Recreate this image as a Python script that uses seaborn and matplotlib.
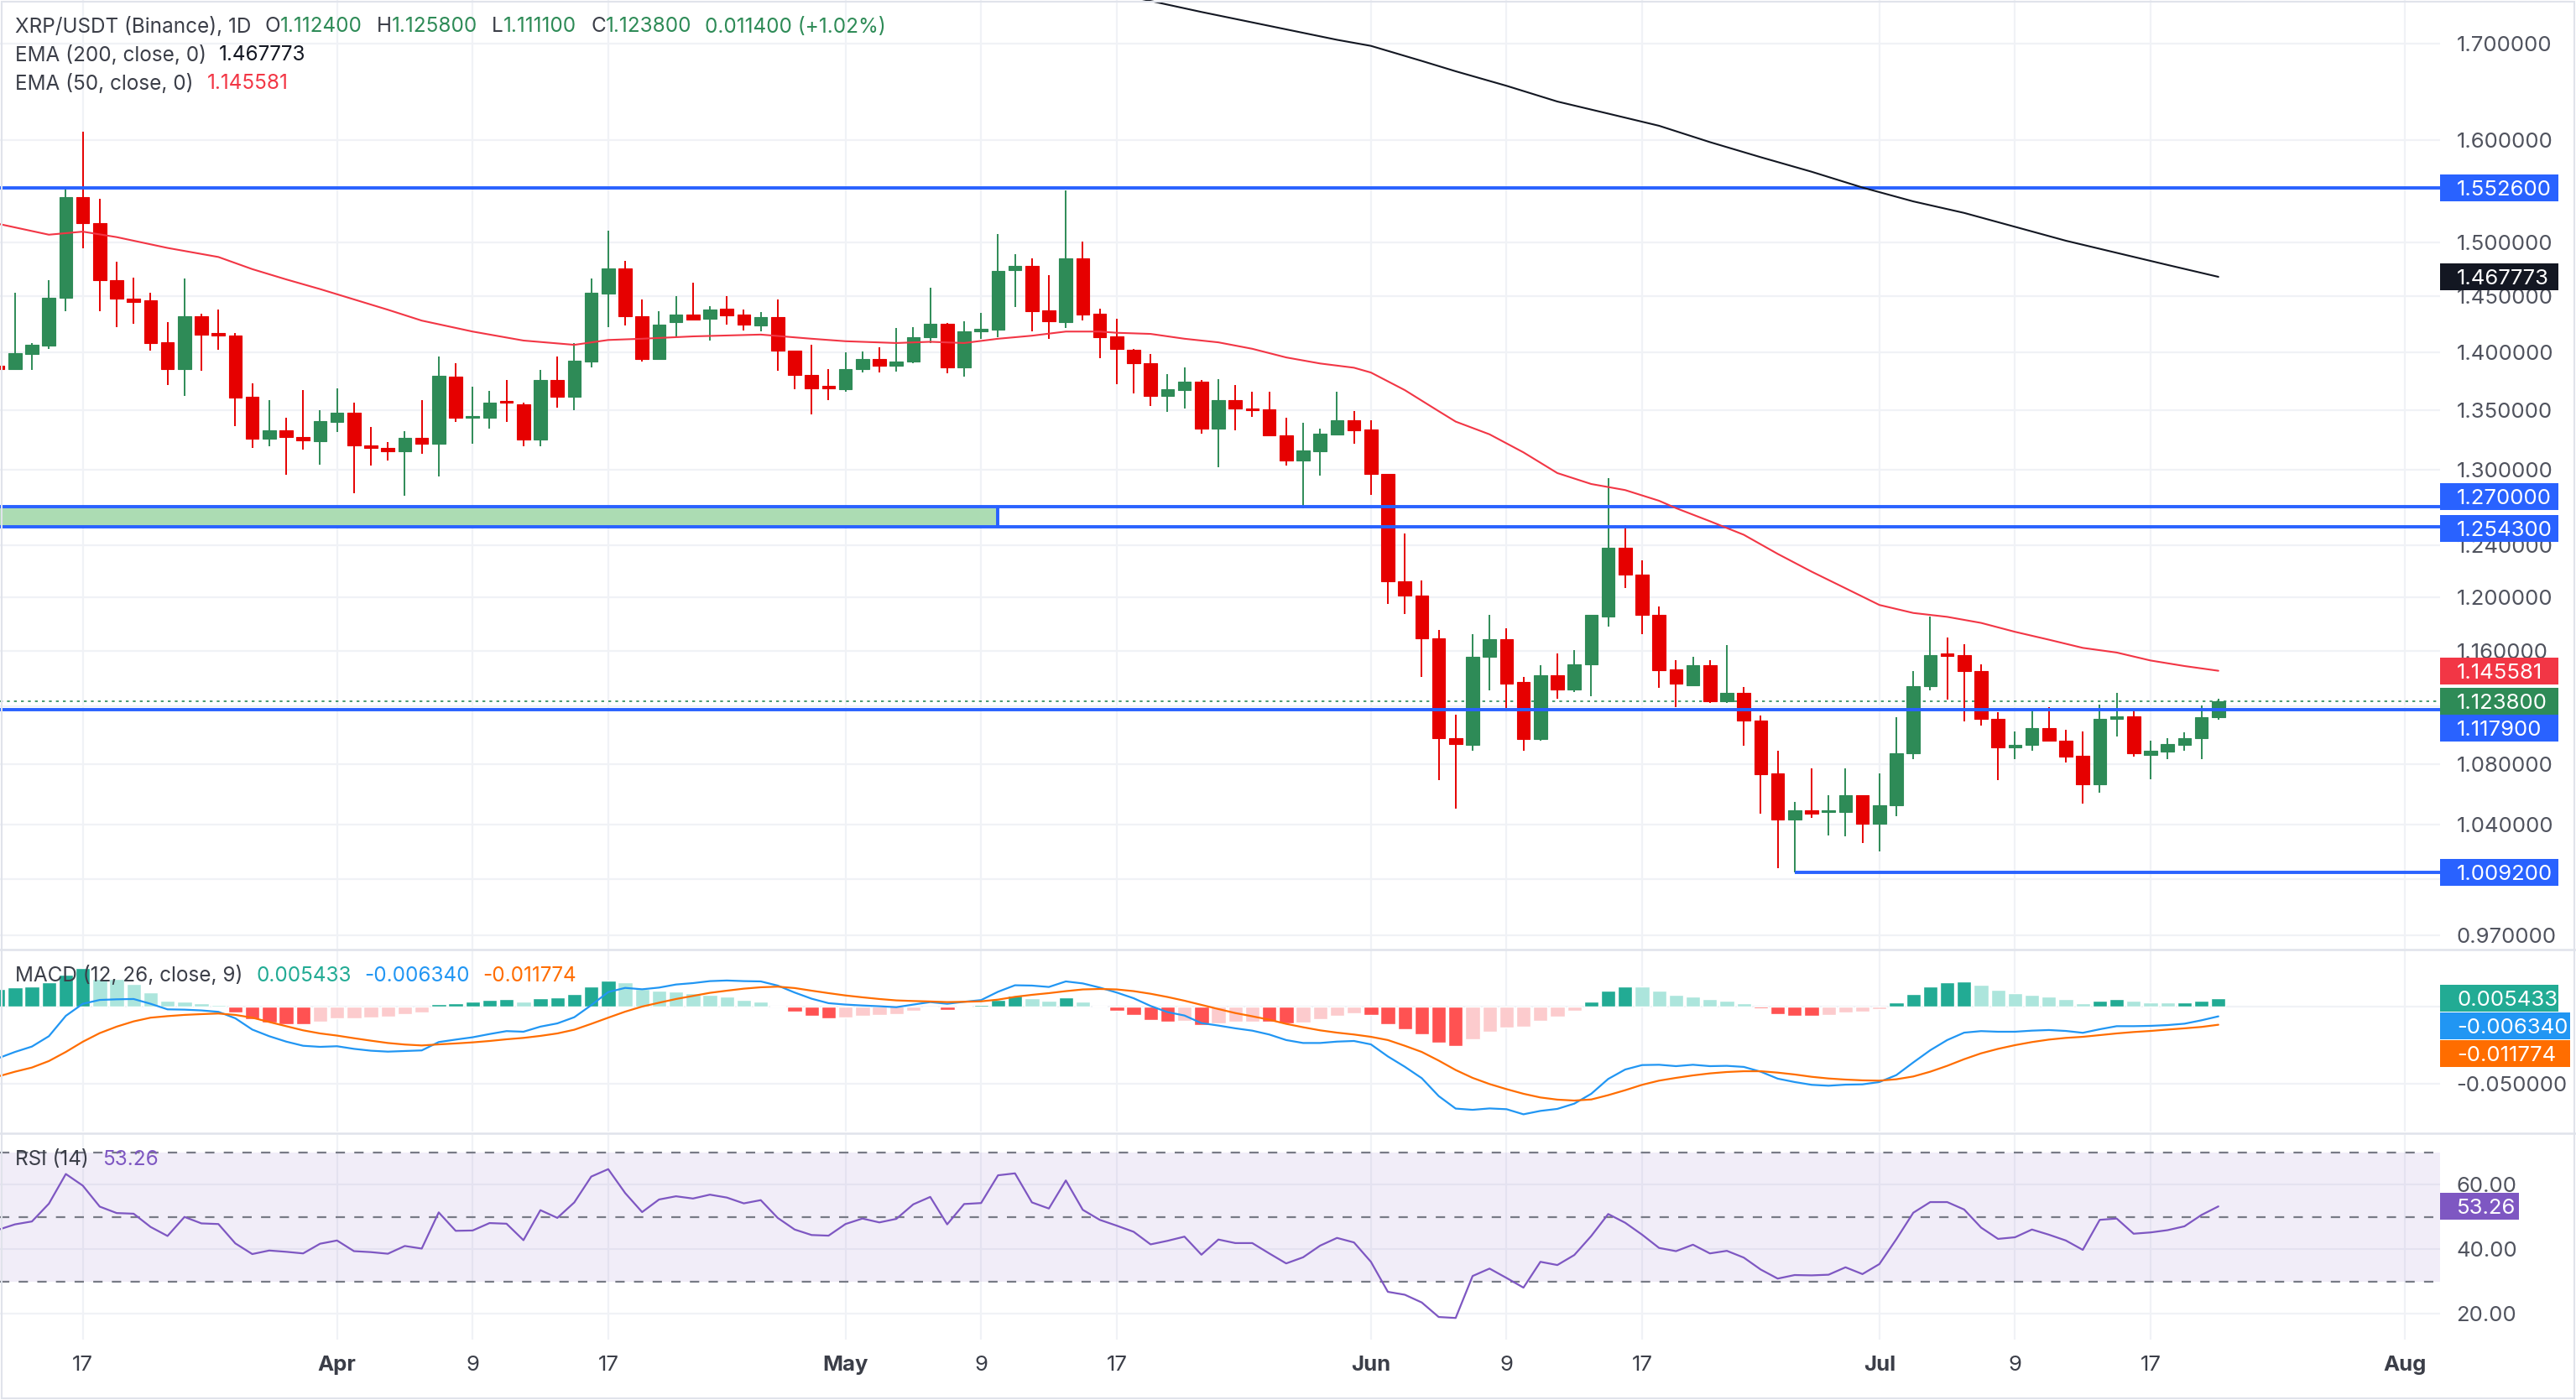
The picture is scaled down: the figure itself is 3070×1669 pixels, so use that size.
import numpy as np
import pandas as pd
import matplotlib
matplotlib.use("Agg")
import matplotlib.pyplot as plt
import matplotlib.dates as mdates
from matplotlib.patches import Rectangle
from matplotlib.lines import Line2D
from matplotlib.ticker import FixedLocator, FixedFormatter, NullLocator
import seaborn as sns

# ---------------- data ----------------
dates = pd.date_range("2025-03-12", "2025-07-21", freq="D")

opens = [1.388, 1.385, 1.3985, 1.4055, 1.4487, 1.5432, 1.5181, 1.465, 1.4477, 1.446,
         1.4088, 1.3847, 1.4322, 1.4165, 1.4144, 1.3611, 1.3254, 1.3329, 1.3274, 1.3239,
         1.34, 1.3478, 1.3203, 1.3178, 1.3153, 1.3264, 1.3213, 1.3785, 1.3431, 1.3436,
         1.3574, 1.3548, 1.3249, 1.3752, 1.3611, 1.3915, 1.4527, 1.4756, 1.4322, 1.3936,
         1.4267, 1.4333, 1.4292, 1.4384, 1.4335, 1.4238, 1.4308, 1.4012, 1.38, 1.3704,
         1.3673, 1.3852, 1.3936, 1.3878, 1.3915, 1.413, 1.4249, 1.3862, 1.4184, 1.42,
         1.474, 1.4779, 1.4373, 1.4265, 1.4852, 1.434, 1.4141, 1.4017, 1.3899, 1.3616,
         1.3668, 1.3742, 1.3344, 1.358, 1.3514, 1.3504, 1.3288, 1.3073, 1.3153, 1.3293,
         1.341, 1.3334, 1.2968, 1.2116, 1.2009, 1.169, 1.0978, 1.0935, 1.1556, 1.1686,
         1.1374, 1.0974, 1.1421, 1.1322, 1.1503, 1.1855, 1.2375, 1.2171, 1.1864, 1.1464,
         1.1352, 1.1494, 1.1236, 1.1296, 1.1103, 1.0738, 1.043, 1.0492, 1.0484, 1.048,
         1.0591, 1.0403, 1.0527, 1.0878, 1.1348, 1.158, 1.1571, 1.1451, 1.1116, 1.0915,
         1.0936, 1.1048, 1.0965, 1.0858, 1.0667, 1.1116, 1.1133, 1.0866, 1.0887, 1.0936,
         1.0978, 1.1124]
highs = [1.391, 1.453, 1.4082, 1.465, 1.5514, 1.6078, 1.5414, 1.4818, 1.4672, 1.4533,
         1.4262, 1.4661, 1.4344, 1.4378, 1.4165, 1.3725, 1.358, 1.3431, 1.3667, 1.3499,
         1.3683, 1.3564, 1.3354, 1.3228, 1.3318, 1.358, 1.3957, 1.3899, 1.3699, 1.3662,
         1.3752, 1.3564, 1.3841, 1.3957, 1.4082, 1.4661, 1.5107, 1.4824, 1.4471, 1.4367,
         1.45, 1.4622, 1.4411, 1.4499, 1.4378, 1.4357, 1.4471, 1.4015, 1.4066, 1.3847,
         1.3996, 1.4001, 1.4044, 1.4211, 1.4222, 1.4577, 1.426, 1.4276, 1.4346, 1.5081,
         1.4891, 1.4852, 1.4694, 1.5497, 1.5003, 1.4389, 1.4297, 1.4028, 1.398, 1.3805,
         1.3862, 1.3757, 1.3763, 1.3711, 1.3657, 1.3657, 1.3436, 1.3389, 1.3339, 1.3657,
         1.3488, 1.341, 1.2968, 1.2486, 1.2125, 1.1753, 1.1146, 1.1722, 1.1864, 1.1766,
         1.1412, 1.1494, 1.1579, 1.1606, 1.1869, 1.2929, 1.2557, 1.2278, 1.1927, 1.153,
         1.1558, 1.153, 1.164, 1.1339, 1.1137, 1.0895, 1.0551, 1.0775, 1.0595, 1.0771,
         1.0595, 1.0742, 1.1124, 1.1451, 1.1851, 1.1695, 1.1649, 1.1503, 1.1163, 1.1026,
         1.1176, 1.1194, 1.104, 1.1026, 1.1215, 1.13, 1.1172, 1.0961, 1.0982, 1.1022,
         1.1211, 1.1258]
lows = [1.382, 1.384, 1.3842, 1.4023, 1.4362, 1.4947, 1.4362, 1.4224, 1.4251, 1.4012,
        1.371, 1.3616, 1.3836, 1.4017, 1.3359, 1.3183, 1.3193, 1.2958, 1.3168, 1.3043,
        1.3312, 1.2807, 1.3033, 1.3073, 1.2792, 1.3128, 1.2948, 1.3394, 1.3218, 1.3344,
        1.3394, 1.3193, 1.3193, 1.3519, 1.3498, 1.3862, 1.4224, 1.4235, 1.3915, 1.393,
        1.4127, 1.4278, 1.4103, 1.4244, 1.419, 1.4184, 1.3836, 1.3678, 1.3462, 1.3585,
        1.3657, 1.382, 1.382, 1.3831, 1.3904, 1.4077, 1.381, 1.3783, 1.4114, 1.413,
        1.44, 1.4184, 1.4114, 1.4211, 1.4281, 1.3942, 1.3717, 1.3637, 1.3529, 1.3483,
        1.3509, 1.3302, 1.3024, 1.3329, 1.3441, 1.3283, 1.3033, 1.2687, 1.2953, 1.3288,
        1.3218, 1.2797, 1.195, 1.1873, 1.1412, 1.0692, 1.0504, 1.0891, 1.1318, 1.1189,
        1.0891, 1.0965, 1.1258, 1.1305, 1.1271, 1.178, 1.2065, 1.1722, 1.1335, 1.1194,
        1.1344, 1.1228, 1.1224, 1.0928, 1.0473, 1.0117, 1.0092, 1.0441, 1.0329, 1.0325,
        1.0278, 1.0226, 1.0457, 1.0838, 1.1318, 1.125, 1.1095, 1.1065, 1.0692, 1.0834,
        1.0891, 1.0961, 1.0813, 1.0536, 1.061, 1.099, 1.0854, 1.07, 1.0834, 1.0891,
        1.0838, 1.1111]
closes = [1.385, 1.399, 1.4066, 1.4482, 1.5432, 1.5181, 1.4645, 1.4477, 1.4449, 1.4082,
          1.3847, 1.4322, 1.4154, 1.4149, 1.3606, 1.3254, 1.3329, 1.3274, 1.3244, 1.3405,
          1.3478, 1.3198, 1.3183, 1.3153, 1.3264, 1.3213, 1.379, 1.3431, 1.3446, 1.3564,
          1.3559, 1.3249, 1.3752, 1.3611, 1.392, 1.4533, 1.4756, 1.4322, 1.3936, 1.424,
          1.4333, 1.4289, 1.4378, 1.4324, 1.4244, 1.4308, 1.4012, 1.38, 1.3683, 1.3683,
          1.3852, 1.3936, 1.3878, 1.3915, 1.413, 1.4249, 1.3862, 1.4184, 1.4206, 1.4734,
          1.4779, 1.4362, 1.427, 1.4852, 1.4335, 1.413, 1.4023, 1.3899, 1.3616, 1.3673,
          1.3742, 1.3344, 1.358, 1.3509, 1.3499, 1.3288, 1.3073, 1.3158, 1.3298, 1.341,
          1.3329, 1.2968, 1.2116, 1.2009, 1.169, 1.0978, 1.094, 1.1556, 1.1686, 1.1365,
          1.0974, 1.1421, 1.1322, 1.1503, 1.1864, 1.2375, 1.2171, 1.1869, 1.146, 1.1361,
          1.1494, 1.1236, 1.1296, 1.1103, 1.0734, 1.043, 1.0492, 1.0473, 1.0492, 1.0591,
          1.0403, 1.0527, 1.0878, 1.1348, 1.1571, 1.1563, 1.1451, 1.1116, 1.0915, 1.0936,
          1.1048, 1.0965, 1.0854, 1.0667, 1.1116, 1.1133, 1.0874, 1.0891, 1.094, 1.0978,
          1.1124, 1.1238]

ema50_dates = ["03-12", "03-15", "03-17", "03-19", "03-22", "03-25", "03-27", "03-29", "03-31",
               "04-04", "04-06", "04-09", "04-12", "04-15", "04-17", "04-19", "04-22", "04-26",
               "04-29", "05-01", "05-04", "05-06", "05-08", "05-10", "05-12", "05-14", "05-16",
               "05-17", "05-19", "05-21", "05-23", "05-25", "05-27", "05-29", "05-31", "06-01",
               "06-03", "06-05", "06-06", "06-08", "06-10", "06-12", "06-14", "06-16", "06-18",
               "06-19", "06-21", "06-23", "06-25", "06-27", "06-29", "07-01", "07-03", "07-05",
               "07-07", "07-09", "07-11", "07-13", "07-15", "07-17", "07-19", "07-21"]
ema50_vals = [1.5176, 1.5072, 1.5101, 1.5049, 1.4947, 1.4862, 1.4749, 1.4654, 1.4565,
              1.4377, 1.4279, 1.4181, 1.4101, 1.4063, 1.4106, 1.4117, 1.4138, 1.4154,
              1.4117, 1.4095, 1.4079, 1.4090, 1.4079, 1.4117, 1.4144, 1.4181, 1.4181,
              1.4170, 1.4160, 1.4117, 1.4085, 1.4028, 1.3952, 1.3899, 1.3862, 1.3820,
              1.3668, 1.3488, 1.3400, 1.3293, 1.3143, 1.2973, 1.2884, 1.2835, 1.2749,
              1.2690, 1.2586, 1.2479, 1.2330, 1.2193, 1.2066, 1.1940, 1.1880, 1.1851,
              1.1806, 1.1740, 1.1682, 1.1622, 1.1588, 1.1530, 1.1490, 1.145581]

ema200_dates = ["05-18", "05-22", "05-26", "05-30", "06-01", "06-04", "06-06", "06-09",
                "06-12", "06-15", "06-18", "06-21", "06-24", "06-27", "06-30", "07-03",
                "07-06", "07-09", "07-12", "07-15", "07-18", "07-21"]
ema200_vals = [1.750, 1.7339, 1.7188, 1.7038, 1.6973, 1.6813, 1.6704, 1.6552,
               1.6389, 1.6265, 1.6141, 1.5976, 1.5825, 1.5681, 1.5526, 1.5391,
               1.5280, 1.5147, 1.5015, 1.4901, 1.4788, 1.467773]

macd_line = [-0.0335, -0.0294, -0.0259, -0.0192, -0.0060, 0.0018, 0.0043, 0.0047, 0.0049, 0.0018,
             -0.0018, -0.0020, -0.0025, -0.0034, -0.0076, -0.0149, -0.0192, -0.0227, -0.0254, -0.0261,
             -0.0257, -0.0274, -0.0286, -0.0292, -0.0288, -0.0284, -0.0230, -0.0214, -0.0199, -0.0178,
             -0.0159, -0.0163, -0.0130, -0.0109, -0.0069, 0.0009, 0.0094, 0.0121, 0.0112, 0.0123,
             0.0143, 0.0152, 0.0165, 0.0169, 0.0165, 0.0163, 0.0136, 0.0091, 0.0051, 0.0022,
             0.0013, 0.0007, 0.0002, -0.0004, 0.0013, 0.0029, 0.0018, 0.0031, 0.0042, 0.0096,
             0.0138, 0.0136, 0.0127, 0.0163, 0.0150, 0.0123, 0.0091, 0.0054, 0.0004, -0.0036,
             -0.0058, -0.0107, -0.0123, -0.0141, -0.0156, -0.0181, -0.0217, -0.0236, -0.0236, -0.0227,
             -0.0223, -0.0245, -0.0323, -0.0390, -0.0464, -0.0580, -0.0661, -0.0669, -0.0660, -0.0665,
             -0.0698, -0.0676, -0.0663, -0.0629, -0.0565, -0.0469, -0.0408, -0.0379, -0.0377, -0.0386,
             -0.0377, -0.0386, -0.0384, -0.0391, -0.0422, -0.0467, -0.0489, -0.0507, -0.0513, -0.0506,
             -0.0504, -0.0489, -0.0444, -0.0362, -0.0283, -0.0217, -0.0169, -0.0159, -0.0163, -0.0163,
             -0.0156, -0.0152, -0.0158, -0.0170, -0.0147, -0.0127, -0.0127, -0.0125, -0.0120, -0.0111,
             -0.0089, -0.006340]
signal_line = [-0.0453, -0.0422, -0.0395, -0.0353, -0.0294, -0.0228, -0.0172, -0.0130, -0.0096, -0.0072,
               -0.0062, -0.0054, -0.0049, -0.0045, -0.0054, -0.0072, -0.0100, -0.0127, -0.0154, -0.0174,
               -0.0188, -0.0205, -0.0221, -0.0236, -0.0246, -0.0252, -0.0245, -0.0239, -0.0232, -0.0223,
               -0.0212, -0.0203, -0.0190, -0.0174, -0.0150, -0.0112, -0.0072, -0.0033, 0.0000, 0.0025,
               0.0049, 0.0069, 0.0089, 0.0103, 0.0116, 0.0125, 0.0129, 0.0120, 0.0103, 0.0087,
               0.0072, 0.0060, 0.0049, 0.0040, 0.0036, 0.0033, 0.0029, 0.0031, 0.0034, 0.0045,
               0.0063, 0.0076, 0.0087, 0.0100, 0.0111, 0.0114, 0.0111, 0.0100, 0.0083, 0.0062,
               0.0038, 0.0011, -0.0016, -0.0042, -0.0063, -0.0085, -0.0112, -0.0134, -0.0154, -0.0169,
               -0.0181, -0.0196, -0.0217, -0.0254, -0.0294, -0.0350, -0.0411, -0.0462, -0.0502, -0.0535,
               -0.0565, -0.0589, -0.0603, -0.0609, -0.0602, -0.0574, -0.0542, -0.0507, -0.0480, -0.0462,
               -0.0446, -0.0433, -0.0424, -0.0419, -0.0419, -0.0428, -0.0440, -0.0455, -0.0466, -0.0473,
               -0.0478, -0.0480, -0.0471, -0.0453, -0.0422, -0.0384, -0.0341, -0.0303, -0.0274, -0.0250,
               -0.0230, -0.0214, -0.0203, -0.0196, -0.0185, -0.0174, -0.0165, -0.0158, -0.0149, -0.0141,
               -0.0132, -0.011774]
macd_hist = [0.0112, 0.0125, 0.0131, 0.0160, 0.0208, 0.0250, 0.0181, 0.0178, 0.0145, 0.0094,
             0.0040, 0.0033, 0.0022, 0.0011, -0.0036, -0.0082, -0.0102, -0.0112, -0.0114, -0.0098,
             -0.0074, -0.0074, -0.0071, -0.0063, -0.0047, -0.0036, 0.0016, 0.0022, 0.0033, 0.0044,
             0.0049, 0.0033, 0.0054, 0.0060, 0.0082, 0.0131, 0.0169, 0.0158, 0.0114, 0.0103,
             0.0098, 0.0087, 0.0076, 0.0065, 0.0044, 0.0033, 0.0005, -0.0031, -0.0058, -0.0074,
             -0.0069, -0.0058, -0.0054, -0.0047, -0.0025, -0.0004, -0.0020, 0.0007, 0.0011, 0.0044,
             0.0069, 0.0054, 0.0038, 0.0060, 0.0033, 0.0005, -0.0025, -0.0053, -0.0085, -0.0096,
             -0.0092, -0.0118, -0.0107, -0.0100, -0.0096, -0.0100, -0.0109, -0.0102, -0.0080, -0.0058,
             -0.0042, -0.0054, -0.0112, -0.0145, -0.0178, -0.0232, -0.0254, -0.0210, -0.0161, -0.0134,
             -0.0132, -0.0091, -0.0063, -0.0025, 0.0033, 0.0103, 0.0131, 0.0129, 0.0103, 0.0076,
             0.0065, 0.0049, 0.0038, 0.0022, -0.0009, -0.0049, -0.0058, -0.0060, -0.0054, -0.0036,
             -0.0033, -0.0015, 0.0027, 0.0082, 0.0131, 0.0158, 0.0163, 0.0141, 0.0109, 0.0087,
             0.0076, 0.0065, 0.0049, 0.0022, 0.0038, 0.0049, 0.0038, 0.0027, 0.0025, 0.0027,
             0.0038, 0.005433]
rsi_vals = [46.0, 47.7, 48.6, 54.1, 63.3, 59.7, 53.2, 51.2, 51.0, 46.9,
            44.1, 50.0, 48.0, 47.8, 41.8, 38.5, 39.6, 39.2, 38.7, 41.7,
            42.7, 39.4, 39.1, 38.6, 41.0, 40.2, 51.4, 45.7, 45.8, 48.1,
            47.9, 42.8, 52.1, 49.7, 54.5, 62.5, 64.8, 57.4, 51.5, 55.4,
            56.4, 55.7, 56.9, 56.0, 54.2, 55.2, 49.7, 46.1, 44.4, 44.2,
            47.8, 49.5, 48.3, 49.4, 53.9, 56.2, 47.7, 54.0, 54.3, 62.9,
            63.5, 54.5, 52.6, 61.3, 52.2, 49.1, 47.3, 45.4, 41.5, 42.6,
            43.9, 38.3, 43.0, 41.9, 41.9, 38.7, 35.6, 37.5, 41.1, 43.5,
            42.1, 36.1, 26.8, 25.9, 23.5, 19.0, 18.7, 31.7, 34.0, 31.1,
            28.1, 36.1, 35.1, 38.2, 44.1, 50.9, 48.2, 44.5, 40.4, 39.4,
            41.4, 38.7, 39.5, 37.4, 33.7, 30.9, 32.0, 31.9, 32.1, 34.4,
            32.3, 35.4, 43.1, 51.3, 54.6, 54.6, 52.3, 46.7, 43.2, 43.7,
            46.1, 44.5, 42.7, 39.8, 49.1, 49.5, 44.8, 45.2, 45.9, 47.1,
            50.6, 53.26]

levels = [1.5526, 1.2700, 1.2543, 1.1179]
support_level = 1.0092
support_from = "2025-06-26"
zone_low, zone_high = 1.2543, 1.2700
zone_until = "2025-05-10"

price_ticks = [1.70, 1.60, 1.50, 1.45, 1.40, 1.35, 1.30, 1.24, 1.20, 1.16, 1.12, 1.08, 1.04, 1.005, 0.97]
price_hidden = [1.12, 1.005]
date_ticks = ["2025-03-17", "2025-04-01", "2025-04-09", "2025-04-17", "2025-05-01", "2025-05-09",
              "2025-05-17", "2025-06-01", "2025-06-09", "2025-06-17", "2025-07-01", "2025-07-09",
              "2025-07-17", "2025-08-01"]
date_labels = ["17", "Apr", "9", "17", "May", "9", "17", "Jun", "9", "17", "Jul", "9", "17", "Aug"]

# ---------------- style ----------------
sns.set_theme(style="white")
plt.rcParams["font.family"] = ["Inter", "DejaVu Sans"]

GREEN = "#2e8b57"
RED = "#e60000"
BLUE = "#2962ff"
EMA_RED = "#f23645"
BLACK = "#131722"
DARK = "#3b3e48"
AXIS_TXT = "#50535e"
GRID = "#f0f2f6"
SEP = "#e0e3eb"
ZONE = "#acdcb3"
TEAL = "#22ab94"
MBLUE = "#2196f3"
ORANGE = "#ff6d00"
PURPLE = "#7e57c2"
FS = 17.5     # legend text
FS_AX = 18.5  # axis labels and tags

W, H = 3070, 1669
PR = 2908  # right edge of the plotting area, px
fig = plt.figure(figsize=(W / 100, H / 100), dpi=100)
fig.patch.set_facecolor("white")


def rect(x0, y0, x1, y1):
    return [x0 / W, 1 - y1 / H, (x1 - x0) / W, (y1 - y0) / H]


ax_p = fig.add_axes(rect(0, 0, PR, 1131))
ax_m = fig.add_axes(rect(0, 1133, PR, 1349), sharex=ax_p)
ax_r = fig.add_axes(rect(0, 1353, PR, 1597), sharex=ax_p)

x_left = dates[0] + pd.Timedelta(days=0.116)
x_right = dates[0] + pd.Timedelta(days=144.08)

o, h, l, c = map(np.array, (opens, highs, lows, closes))
col = np.where(c >= o, GREEN, RED)

# ---------------- price panel ----------------
ax_p.set_yscale("log")
ax_p.vlines(dates, l, h, colors=col, lw=1.4, zorder=3)
ax_p.bar(dates, np.abs(c - o), bottom=np.minimum(o, c), width=0.77,
         color=col, edgecolor=col, linewidth=0.8, zorder=4)

zs = mdates.date2num(dates[0]) - 2
ze = mdates.date2num(pd.Timestamp(zone_until))
ax_p.add_patch(Rectangle((zs, zone_low), ze - zs, zone_high - zone_low,
                         fc=ZONE, ec="none", zorder=2))
ax_p.vlines(pd.Timestamp(zone_until), zone_low, zone_high, colors=BLUE, lw=2.8, zorder=5)
for v in levels:
    ax_p.axhline(v, color=BLUE, lw=2.8, zorder=5)
ax_p.hlines(support_level, pd.Timestamp(support_from), x_right, colors=BLUE, lw=2.8, zorder=5)
ax_p.axhline(c[-1], color=GREEN, lw=1.2, ls=(0, (2, 3)), zorder=2.5)

sns.lineplot(x=pd.to_datetime(["2025-" + d for d in ema200_dates]), y=ema200_vals,
             ax=ax_p, color=BLACK, lw=1.5, zorder=6)
sns.lineplot(x=pd.to_datetime(["2025-" + d for d in ema50_dates]), y=ema50_vals,
             ax=ax_p, color=EMA_RED, lw=1.5, zorder=6)

ax_p.set_ylim(0.9618, 1.747)
ax_p.yaxis.set_major_locator(FixedLocator(price_ticks))
ax_p.yaxis.set_major_formatter(FixedFormatter(
    ["" if t in price_hidden else f"{t:.6f}" for t in price_ticks]))
ax_p.yaxis.set_minor_locator(NullLocator())

# ---------------- MACD panel ----------------
hist = np.array(macd_hist)
prev = np.r_[hist[0], hist[:-1]]
hcol = np.where(hist >= 0,
                np.where(hist >= prev, TEAL, "#ace5dc"),
                np.where(hist < prev, "#ff5252", "#fccbcd"))
ax_m.bar(dates, hist, width=0.86, color=hcol, zorder=2)
sns.lineplot(x=dates, y=macd_line, ax=ax_m, color=MBLUE, lw=1.6, zorder=4)
sns.lineplot(x=dates, y=signal_line, ax=ax_m, color=ORANGE, lw=1.6, zorder=4)
ax_m.set_ylim(-0.0810, 0.0364)
ax_m.set_yticks([0.0, -0.05])
ax_m.set_yticklabels(["", "-0.050000"])

# ---------------- RSI panel ----------------
ax_r.axhspan(30, 70, color=PURPLE, alpha=0.1, lw=0, zorder=1)
for v in (70, 50, 30):
    ax_r.axhline(v, color="#787b86", lw=1.6, ls=(0, (5, 5)), zorder=2)
sns.lineplot(x=dates, y=rsi_vals, ax=ax_r, color=PURPLE, lw=1.6, zorder=4)
ax_r.set_ylim(12.0, 75.4)
ax_r.set_yticks([60, 40, 20])
ax_r.set_yticklabels(["60.00", "40.00", "20.00"])

# ---------------- shared axis styling ----------------
for ax in (ax_p, ax_m, ax_r):
    ax.set_facecolor("white")
    for s in ax.spines.values():
        s.set_visible(False)
    ax.yaxis.tick_right()
    ax.tick_params(axis="y", length=0, pad=14, labelsize=FS_AX, labelcolor=AXIS_TXT)
    ax.grid(True, color=GRID, lw=1.6, zorder=0)
    ax.set_axisbelow(True)
    ax.set_xlabel("")
    ax.set_ylabel("")

ax_r.set_xticks(pd.to_datetime(date_ticks))
ax_r.set_xticklabels(date_labels)
ax_r.set_xlim(x_left, x_right)
ax_r.tick_params(axis="x", length=0, pad=14, labelsize=FS_AX, labelcolor=DARK)
for t in ax_r.get_xticklabels():
    if not t.get_text().isdigit():
        t.set_fontweight("bold")
for ax in (ax_p, ax_m):
    ax.tick_params(axis="x", length=0, labelbottom=False)

# panel separators and frame
for y in (1132, 1351):
    fig.add_artist(Line2D([0, 1], [1 - y / H, 1 - y / H], color=SEP, lw=1.8,
                          transform=fig.transFigure))
fig.add_artist(Rectangle((0.0005, 0.001), 0.999, 0.998, transform=fig.transFigure,
                         fill=False, ec=SEP, lw=1.5))


# ---------------- value tags on the right axis ----------------
def tag(ax, val, text, fc, dy=0, w=141):
    ypx = ax.transData.transform((ax.get_xlim()[0], val))[1] - dy
    fig.add_artist(Rectangle((PR / W, (ypx - 16) / H), w / W, 32 / H,
                             transform=fig.transFigure, fc=fc, ec="none", zorder=10))
    fig.text((PR + 20) / W, ypx / H, text, color="white", fontsize=FS_AX,
             va="center_baseline", ha="left", zorder=11)


tag(ax_p, levels[0], f"{levels[0]:.6f}", BLUE)
tag(ax_p, ema200_vals[-1], f"{ema200_vals[-1]:.6f}", BLACK)
tag(ax_p, levels[1], f"{levels[1]:.6f}", BLUE, dy=-12)
tag(ax_p, levels[2], f"{levels[2]:.6f}", BLUE, dy=2)
tag(ax_p, ema50_vals[-1], f"{ema50_vals[-1]:.6f}", EMA_RED)
tag(ax_p, c[-1], f"{c[-1]:.6f}", GREEN)
tag(ax_p, levels[3], f"{levels[3]:.6f}", BLUE, dy=22)
tag(ax_p, support_level, f"{support_level:.6f}", BLUE)
tag(ax_m, macd_hist[-1], f"{macd_hist[-1]:.6f}", TEAL)
tag(ax_m, macd_line[-1], f"{macd_line[-1]:.6f}", MBLUE, dy=11, w=155)
tag(ax_m, signal_line[-1], f"{signal_line[-1]:.6f}", ORANGE, dy=34, w=155)
tag(ax_r, rsi_vals[-1], f"{rsi_vals[-1]:.2f}", PURPLE, w=94)

# ---------------- legends (top-left of each pane) ----------------
renderer = fig.canvas.get_renderer()


def run(x, y, parts):
    for s, colr, gap in parts:
        t = fig.text(x / W, 1 - y / H, s, color=colr, fontsize=FS, va="center", ha="left",
                     zorder=12)
        x += t.get_window_extent(renderer).width + gap


chg = c[-1] - c[-2]
pct = chg / c[-2] * 100
run(18, 32, [("XRP/USDT (Binance), 1D", DARK, 16),
             ("O", DARK, 0), (f"{o[-1]:.6f}", GREEN, 17),
             ("H", DARK, 0), (f"{h[-1]:.6f}", GREEN, 17),
             ("L", DARK, 0), (f"{l[-1]:.6f}", GREEN, 17),
             ("C", DARK, 0), (f"{c[-1]:.6f}", GREEN, 16),
             (f"{chg:.6f} ({pct:+.2f}%)", GREEN, 0)])
run(18, 66, [("EMA (200, close, 0)", DARK, 15), (f"{ema200_vals[-1]:.6f}", BLACK, 0)])
run(18, 100, [("EMA (50, close, 0)", DARK, 16), (f"{ema50_vals[-1]:.6f}", EMA_RED, 0)])
run(18, 1163, [("MACD (12, 26, close, 9)", DARK, 16), (f"{macd_hist[-1]:.6f}", TEAL, 15),
               (f"{macd_line[-1]:.6f}", MBLUE, 16), (f"{signal_line[-1]:.6f}", ORANGE, 0)])
run(18, 1382, [("RSI (14)", DARK, 16), (f"{rsi_vals[-1]:.2f}", PURPLE, 0)])

fig.savefig("out.png", dpi=100)
